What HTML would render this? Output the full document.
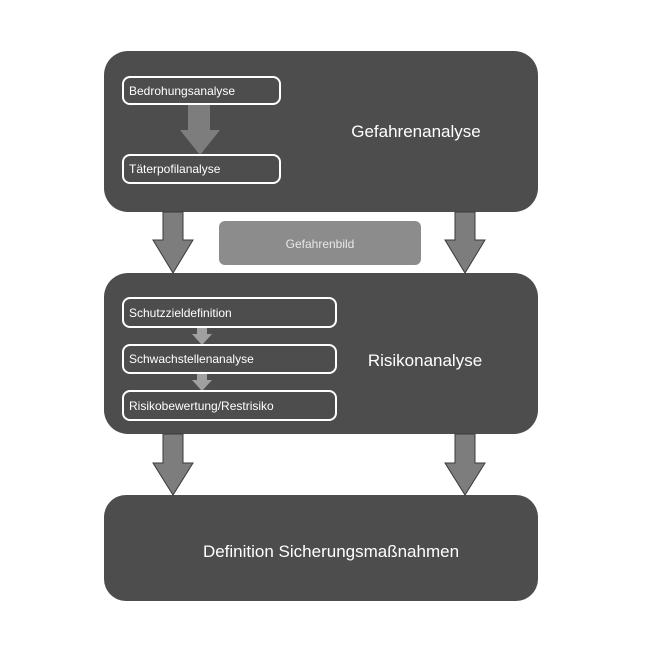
<!DOCTYPE html>
<html><head><style>
body{margin:0;background:#fff;}
svg{display:block;font-family:"Liberation Sans",Arial,sans-serif;}
</style></head><body>
<svg width="669" height="667" viewBox="0 0 669 667">
<rect x="104" y="51" width="434" height="161" rx="24" fill="#4d4d4d"/>
<rect x="104" y="273" width="434" height="161" rx="24" fill="#4d4d4d"/>
<rect x="104" y="495" width="434" height="106" rx="22" fill="#4d4d4d"/>
<rect x="219" y="221" width="202" height="44" rx="6" fill="#8c8c8c"/>
<text x="320" y="248" fill="#e8e8e8" font-size="12" text-anchor="middle">Gefahrenbild</text>
<g fill="#7d7d7d" stroke="#3a3a3a" stroke-width="1">
<polygon points="163,212 183,212 183,240 193,240 173,273 153,240 163,240"/>
<polygon points="455,212 475,212 475,240 485,240 465,273 445,240 455,240"/>
<polygon points="163,434 183,434 183,463 193,463 173,495 153,463 163,463"/>
<polygon points="455,434 475,434 475,463 485,463 465,495 445,463 455,463"/>
</g>
<polygon points="188,104 210,104 210,130 220,130 200,155 180,130 188,130" fill="#7d7d7d"/>
<g fill="#a0a0a0">
<polygon points="197,327 207,327 207,334 212,334 202,345 192,334 197,334"/>
<polygon points="197,373 207,373 207,380 212,380 202,391 192,380 197,380"/>
</g>
<g fill="none" stroke="#fff" stroke-width="2">
<rect x="123" y="77" width="157" height="27" rx="7"/>
<rect x="123" y="155" width="157" height="28" rx="7"/>
<rect x="123" y="298" width="213" height="29" rx="7"/>
<rect x="123" y="345" width="213" height="28" rx="7"/>
<rect x="123" y="391" width="213" height="29" rx="7"/>
</g>
<g fill="#fff" font-size="12">
<text x="129" y="95">Bedrohungsanalyse</text>
<text x="129" y="173">Täterpofilanalyse</text>
<text x="129" y="317">Schutzzieldefinition</text>
<text x="129" y="363">Schwachstellenanalyse</text>
<text x="129" y="410">Risikobewertung/Restrisiko</text>
</g>
<g fill="#fff" font-size="17" text-anchor="middle">
<text x="416" y="137">Gefahrenanalyse</text>
<text x="425" y="366">Risikonanalyse</text>
<text x="331" y="557">Definition Sicherungsmaßnahmen</text>
</g>
</svg>
</body></html>
